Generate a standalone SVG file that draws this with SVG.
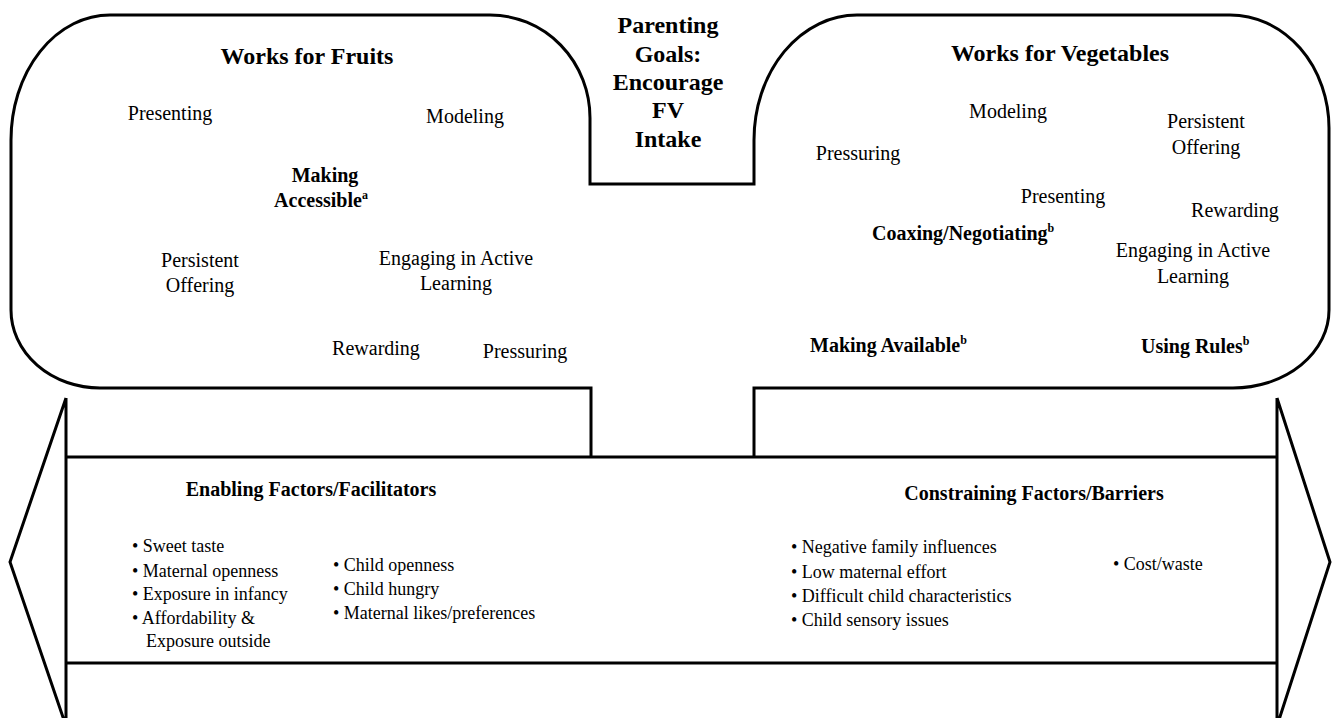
<svg xmlns="http://www.w3.org/2000/svg" width="1334" height="718" viewBox="0 0 1334 718" font-family="'Liberation Serif', 'DejaVu Serif', serif">
<style>
.ln{fill:none;stroke:#000;stroke-width:3;stroke-linejoin:miter}
.h{font-size:24px;font-weight:bold;text-anchor:middle}
.sh{font-size:20px;font-weight:bold;text-anchor:middle}
.t{font-size:20px;text-anchor:middle}
.tb{font-size:20px;font-weight:bold}
.b{font-size:18px}
.sup{font-size:12px;font-weight:bold}
</style>
<rect width="1334" height="718" fill="#fff"/>
<g id="outline">
<path class="ln" d="M591 457 L591 388 L100 388 A89 78 0 0 1 11 310 L11 140 A99 125 0 0 1 110 15 L490 15 A100 103 0 0 1 590 118 L590 184 L754 184 L754 140 A103 125 0 0 1 857 15 L1230 15 A99 113 0 0 1 1329 128 L1329 310 A96 78 0 0 1 1233 388 L754 388 L754 457"/>
</g>
<g id="connectors">
<path class="ln" d="M66 457 L1277 457 M66 663 L1277 663"/>
<path class="ln" d="M66 398 L66 730 M66 398 L10 562 L66 726"/>
<path class="ln" d="M1277 398 L1277 730 M1277 398 L1330 562 L1277 726"/>
</g>
<g id="goal" font-family="'Liberation Serif', serif">
<text class="h" x="668" y="33">Parenting</text>
<text class="h" x="668" y="62">Goals:</text>
<text class="h" x="668" y="90">Encourage</text>
<text class="h" x="668" y="118">FV</text>
<text class="h" x="668" y="147">Intake</text>
</g>
<g id="fruits" font-family="'Liberation Serif', serif">
<text class="h" x="307" y="64">Works for Fruits</text>
<text class="t" x="170" y="120">Presenting</text>
<text class="t" x="465" y="123">Modeling</text>
<text class="sh" x="325" y="182">Making</text>
<text class="sh" x="321" y="207">Accessible<tspan class="sup" dy="-8">a</tspan></text>
<text class="t" x="200" y="267">Persistent</text>
<text class="t" x="200" y="292">Offering</text>
<text class="t" x="456" y="265">Engaging in Active</text>
<text class="t" x="456" y="290">Learning</text>
<text class="t" x="376" y="355">Rewarding</text>
<text class="t" x="525" y="358">Pressuring</text>
</g>
<g id="vegetables" font-family="'Liberation Serif', serif">
<text class="h" x="1060" y="61">Works for Vegetables</text>
<text class="t" x="1008" y="118">Modeling</text>
<text class="t" x="858" y="160">Pressuring</text>
<text class="t" x="1206" y="128">Persistent</text>
<text class="t" x="1206" y="154">Offering</text>
<text class="t" x="1063" y="203">Presenting</text>
<text class="t" x="1235" y="217">Rewarding</text>
<text class="tb" x="872" y="240">Coaxing/Negotiating<tspan class="sup" dy="-8">b</tspan></text>
<text class="t" x="1193" y="257">Engaging in Active</text>
<text class="t" x="1193" y="283">Learning</text>
<text class="tb" x="810" y="352">Making Available<tspan class="sup" dy="-8">b</tspan></text>
<text class="tb" x="1141" y="353">Using Rules<tspan class="sup" dy="-8">b</tspan></text>
</g>
<g id="enabling" font-family="'Liberation Serif', serif">
<text class="sh" x="311" y="496">Enabling Factors/Facilitators</text>
<text class="b" x="132" y="552">• Sweet taste</text>
<text class="b" x="132" y="577">• Maternal openness</text>
<text class="b" x="132" y="600">• Exposure in infancy</text>
<text class="b" x="132" y="624">• Affordability &amp;</text>
<text class="b" x="146" y="647">Exposure outside</text>
<text class="b" x="333" y="571">• Child openness</text>
<text class="b" x="333" y="595">• Child hungry</text>
<text class="b" x="333" y="619">• Maternal likes/preferences</text>
</g>
<g id="constraining" font-family="'Liberation Serif', serif">
<text class="sh" x="1034" y="500">Constraining Factors/Barriers</text>
<text class="b" x="791" y="553">• Negative family influences</text>
<text class="b" x="791" y="578">• Low maternal effort</text>
<text class="b" x="791" y="602">• Difficult child characteristics</text>
<text class="b" x="791" y="626">• Child sensory issues</text>
<text class="b" x="1113" y="570">• Cost/waste</text>
</g>
</svg>
